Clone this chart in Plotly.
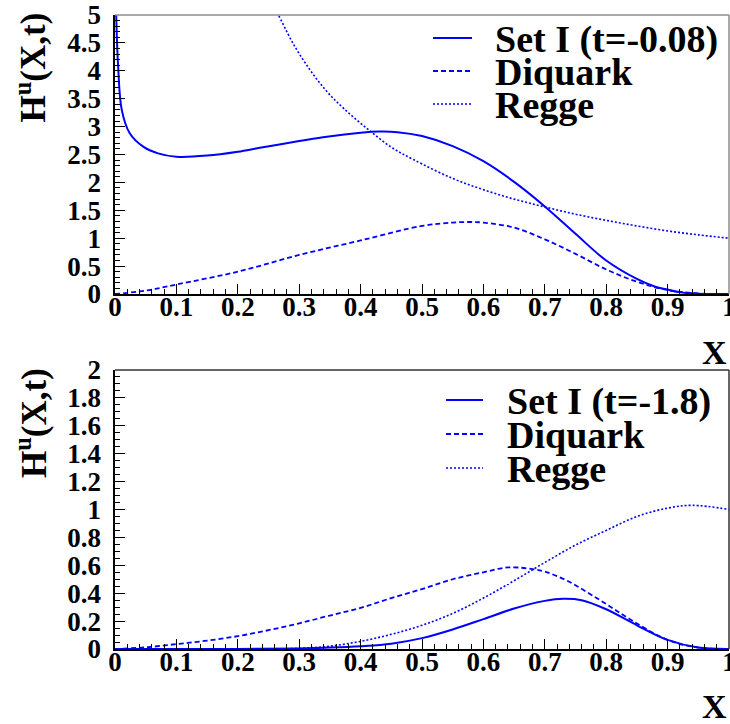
import plotly.graph_objects as go

W, H = 730, 724

# ---------------- data ----------------
# Top panel, t = -0.08
top_set1_x = [0.001, 0.002, 0.005, 0.011, 0.024, 0.046, 0.07, 0.1, 0.15, 0.2, 0.236, 0.3, 0.345, 0.4, 0.43,
              0.46, 0.5, 0.55, 0.6, 0.65, 0.7, 0.75, 0.8, 0.85, 0.88, 0.9, 0.92, 0.95, 1.0]
top_set1_y = [5.8, 5.0, 4.1, 3.3, 2.88, 2.64, 2.52, 2.46, 2.48, 2.55, 2.62, 2.74, 2.82, 2.89, 2.91,
              2.90, 2.83, 2.65, 2.38, 2.01, 1.57, 1.08, 0.60, 0.27, 0.13, 0.08, 0.03, 0.005, 0.0]

top_diq_x = [0.0, 0.05, 0.1, 0.2, 0.3, 0.4, 0.5, 0.55, 0.58, 0.6, 0.65, 0.7, 0.75, 0.8, 0.85, 0.9, 0.95, 1.0]
top_diq_y = [0.0, 0.06, 0.17, 0.40, 0.70, 0.96, 1.22, 1.28, 1.29, 1.28, 1.19, 0.98, 0.72, 0.44, 0.22, 0.07, 0.01, 0.0]

top_regge_x = [0.26, 0.266, 0.29, 0.318, 0.345, 0.372, 0.41, 0.45, 0.486, 0.55, 0.6, 0.65, 0.7, 0.75, 0.8,
               0.85, 0.9, 0.95, 1.0]
top_regge_y = [5.1, 5.0, 4.49, 4.01, 3.63, 3.33, 2.97, 2.63, 2.41, 2.07, 1.87, 1.70, 1.56, 1.43, 1.32,
               1.22, 1.13, 1.06, 1.0]

# Bottom panel, t = -1.8
bot_set1_x = [0.0, 0.2, 0.3, 0.35, 0.4, 0.45, 0.5, 0.55, 0.6, 0.65, 0.7, 0.73, 0.76, 0.8, 0.85, 0.9, 0.95, 1.0]
bot_set1_y = [0.0, 0.0, 0.004, 0.01, 0.02, 0.038, 0.078, 0.14, 0.214, 0.29, 0.345, 0.36, 0.35, 0.285, 0.17, 0.065, 0.01, 0.0]

bot_diq_x = [0.0, 0.05, 0.1, 0.15, 0.2, 0.25, 0.3, 0.35, 0.4, 0.45, 0.5, 0.55, 0.6, 0.64, 0.68, 0.7, 0.736,
             0.79, 0.84, 0.9, 0.95, 1.0]
bot_diq_y = [0.0, 0.012, 0.035, 0.06, 0.092, 0.135, 0.184, 0.24, 0.295, 0.365, 0.43, 0.50, 0.55, 0.585, 0.573,
             0.555, 0.49, 0.35, 0.21, 0.065, 0.01, 0.0]

bot_regge_x = [0.0, 0.25, 0.3, 0.35, 0.4, 0.45, 0.5, 0.55, 0.6, 0.65, 0.7, 0.75, 0.8, 0.85, 0.9, 0.94, 1.0]
bot_regge_y = [0.0, 0.0, 0.005, 0.02, 0.055, 0.105, 0.17, 0.255, 0.365, 0.49, 0.62, 0.745, 0.85, 0.95, 1.01, 1.03, 1.0]

x_ticks = [0, 0.1, 0.2, 0.3, 0.4, 0.5, 0.6, 0.7, 0.8, 0.9, 1]
x_ticklabels = ["0", "0.1", "0.2", "0.3", "0.4", "0.5", "0.6", "0.7", "0.8", "0.9", "1"]
top_yticks = [0, 0.5, 1, 1.5, 2, 2.5, 3, 3.5, 4, 4.5, 5]
top_yticklabels = ["0", "0.5", "1", "1.5", "2", "2.5", "3", "3.5", "4", "4.5", "5"]
bot_yticks = [0, 0.2, 0.4, 0.6, 0.8, 1, 1.2, 1.4, 1.6, 1.8, 2]
bot_yticklabels = ["0", "0.2", "0.4", "0.6", "0.8", "1", "1.2", "1.4", "1.6", "1.8", "2"]

legend_top = ["Set I (t=-0.08)", "Diquark", "Regge"]
legend_bot = ["Set I (t=-1.8)", "Diquark", "Regge"]
y_title = "H<sup>u</sup>(X,t)"
x_title = "X"

# ---------------- styling ----------------
BLUE = "#0000ff"
FONT = "Liberation Serif"
DASHES = ["solid", "5px,3px", "2px,2px"]
WIDTHS = [2, 1.8, 1.6]
PAD = "\u00a0"  # small gap between y tick labels and the axis


def px(v):
    return v / W


def py(v):
    return 1 - v / H


fig = go.Figure()

series = [
    ("x", "y", top_set1_x, top_set1_y, 0),
    ("x", "y", top_diq_x, top_diq_y, 1),
    ("x", "y", top_regge_x, top_regge_y, 2),
    ("x2", "y2", bot_set1_x, bot_set1_y, 0),
    ("x2", "y2", bot_diq_x, bot_diq_y, 1),
    ("x2", "y2", bot_regge_x, bot_regge_y, 2),
]
for xa, ya, xs, ys, k in series:
    fig.add_trace(go.Scatter(x=xs, y=ys, xaxis=xa, yaxis=ya, mode="lines",
                             line=dict(color=BLUE, width=WIDTHS[k], dash=DASHES[k], shape="spline", smoothing=1.0),
                             showlegend=False, hoverinfo="skip"))

xtickfont = dict(family=FONT, size=27, color="black", weight="bold")
ytickfont = dict(family=FONT, size=27, color="black", weight="bold")
xdom = [px(115), px(729)]
top_dom = [py(294), py(15)]
bot_dom = [py(649), py(370)]

common_x = dict(range=[0, 1], tickvals=x_ticks, ticktext=x_ticklabels, ticks="inside", ticklen=10,
                tickwidth=1.2, tickcolor="black", showline=True, linecolor="black", linewidth=1.5,
                showgrid=False, zeroline=False, tickfont=xtickfont, domain=xdom, automargin=False,
                ticklabeloverflow="allow", ticklabelstandoff=-12,
                minor=dict(ticks="inside", ticklen=5, dtick=0.02, tickcolor="black", tickwidth=1))

common_y = dict(ticks="inside", ticklen=10, tickwidth=1.2, tickcolor="black", showline=True,
                linecolor="black", linewidth=1.5, showgrid=False, zeroline=False, tickfont=ytickfont,
                automargin=False, ticklabeloverflow="allow")

fig.update_layout(
    width=W, height=H, margin=dict(l=0, r=0, t=0, b=0),
    paper_bgcolor="white", plot_bgcolor="white",
    xaxis=dict(common_x, anchor="y"),
    xaxis2=dict(common_x, anchor="y2"),
    yaxis=dict(common_y, range=[0, 5], tickvals=top_yticks, ticktext=[t + PAD for t in top_yticklabels],
               domain=top_dom, anchor="x",
               minor=dict(ticks="inside", ticklen=5, dtick=0.1, tickcolor="black", tickwidth=1)),
    yaxis2=dict(common_y, range=[0, 2], tickvals=bot_yticks, ticktext=[t + PAD for t in bot_yticklabels],
                domain=bot_dom, anchor="x2",
                minor=dict(ticks="inside", ticklen=5, dtick=0.05, tickcolor="black", tickwidth=1)),
)

# frame (top and right edges)
shapes = []
for xr, yr, col in [("x domain", "y domain", "#8c8c8c"), ("x2 domain", "y2 domain", "#333333")]:
    shapes.append(dict(type="line", xref=xr, yref=yr, x0=0, x1=1, y0=1, y1=1, line=dict(color=col, width=1.5)))
    shapes.append(dict(type="line", xref=xr, yref=yr, x0=1, x1=1, y0=0, y1=1, line=dict(color=col, width=1.5)))

# legend samples and text
annotations = []
legend_specs = [
    (legend_top, 433, 472, 493, [38, 71, 104]),
    (legend_bot, 446, 483, 505, [400, 434, 468]),
]
for labels, lx0, lx1, tx, rows in legend_specs:
    for k, (lab, ry) in enumerate(zip(labels, rows)):
        shapes.append(dict(type="line", xref="paper", yref="paper", x0=px(lx0), x1=px(lx1), y0=py(ry), y1=py(ry),
                           line=dict(color=BLUE, width=WIDTHS[k], dash=DASHES[k])))
        annotations.append(dict(text=lab, xref="paper", yref="paper", x=px(tx), y=py(ry + 1), xanchor="left",
                                yanchor="middle", showarrow=False,
                                font=dict(family=FONT, size=38, color="black", weight="bold")))

# axis titles
for yc in [67.5, 423]:
    annotations.append(dict(text=y_title, xref="paper", yref="paper", x=px(31), y=py(yc), xanchor="center",
                            yanchor="middle", textangle=-90, showarrow=False,
                            font=dict(family=FONT, size=35, color="black", weight="bold")))
for yc in [352, 706]:
    annotations.append(dict(text=x_title, xref="paper", yref="paper", x=px(729), y=py(yc), xanchor="right",
                            yanchor="middle", showarrow=False,
                            font=dict(family=FONT, size=34, color="black", weight="bold")))

fig.update_layout(shapes=shapes, annotations=annotations)
fig.write_html("out.html", config={"displayModeBar": False},
               post_script="document.body.style.margin='0px';document.body.style.padding='0px';")
